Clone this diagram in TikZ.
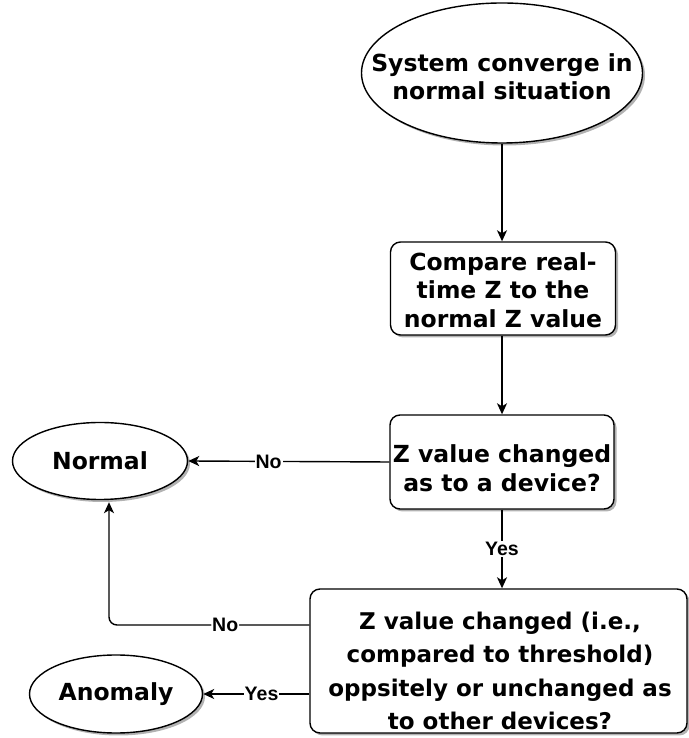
\documentclass[tikz,border=0pt]{standalone}
\usepackage{fontspec}
\setmainfont{DejaVu Sans}
\newfontfamily\labfont{Liberation Sans}
\usetikzlibrary{shapes.geometric,arrows.meta,shadows,calc}
\begin{document}
\begin{tikzpicture}[x=1pt,y=1pt,
  shad/.style={drop shadow={shadow xshift=2.5pt,shadow yshift=-2.5pt,fill=black,opacity=0.3}},
  bigtxt/.style={align=center,inner sep=0pt,font=\bfseries\fontsize{23.5}{28.5}\selectfont},
  ell/.style={ellipse,draw=black,line width=1.4pt,fill=white,shad,inner sep=0pt,align=center,font=\bfseries\fontsize{23.5}{29}\selectfont},
  rbox/.style={rectangle,rounded corners=10pt,draw=black,line width=1.4pt,fill=white,shad,inner sep=0pt},
  conn/.style={line width=1.4pt,-{Stealth[length=11pt,width=10pt,inset=3pt]}},
  lab/.style={fill=white,inner sep=1pt,font=\labfont\bfseries\fontsize{19.5}{22}\selectfont}
]
\useasboundingbox (0,0) rectangle (688,738);
\node[ell,minimum width=281pt,minimum height=140pt] (start) at (502,665) {};
\node[bigtxt] (startt) at (502,661) {System converge in\\normal situation};
\node[rbox,minimum width=225pt,minimum height=93pt] (cmp) at (503,449.5) {};
\node[bigtxt] (cmpt) at (503,448) {Compare real-\\time Z to the\\normal Z value};
\node[rbox,minimum width=224pt,minimum height=94pt] (dec1) at (502,276) {};
\node[bigtxt] (dec1t) at (502,270) {Z value changed\\as to a device?};
\node[ell,minimum width=175pt,minimum height=77pt] (normal) at (100,277) {Normal};
\node[rbox,minimum width=377pt,minimum height=144pt] (dec2) at (498.5,77) {};
\node[bigtxt,font=\bfseries\fontsize{23}{33.3}\selectfont] (dec2t) at (500,67) {Z value changed (i.e.,\\compared to threshold)\\oppsitely or unchanged as\\to other devices?};
\node[ell,minimum width=173pt,minimum height=78pt] (anom) at (116,44) {Anomaly};

\draw[conn] (start.south -| 502,0) -- (cmp.north -| 502,0);
\draw[conn] (cmp.south -| 502,0) -- (dec1.north -| 502,0);
\draw[conn] (dec1.west) -- node[lab,pos=0.6] (lno1) {No} (normal.east);
\draw[conn] (dec1.south -| 502,0) -- node[lab,pos=0.5] (lyes1) {Yes} (dec2.north -| 502,0);
\coordinate (nEnd) at ($(normal.south)+(9,-2)$);
\draw[conn,rounded corners=8pt] (dec2.west |- 0,113) -| node[lab,pos=0.21] (lno2) {No} (nEnd);
\draw[conn] (dec2.west |- 0,44) -- node[lab,pos=0.45] (lyes2) {Yes} (anom.east);
\end{tikzpicture}
\end{document}
